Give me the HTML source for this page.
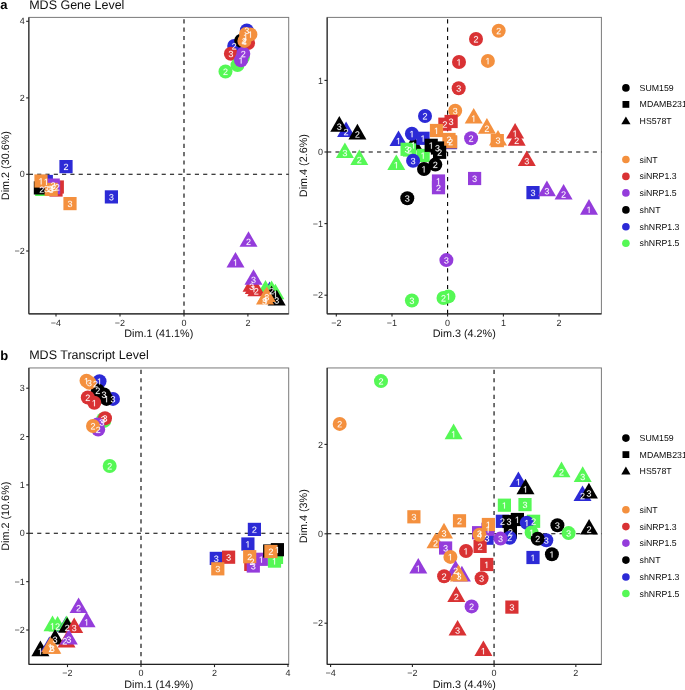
<!DOCTYPE html>
<html><head><meta charset="utf-8"><style>
html,body{margin:0;padding:0;background:#fff;width:685px;height:690px;overflow:hidden}
svg{display:block;will-change:transform}
text{text-rendering:geometricPrecision}
text{font-family:"Liberation Sans", sans-serif;fill:#1a1a1a}
.tk{font-size:9px;fill:#2a2a2a}
.ax{font-size:10.8px;fill:#111}
.lg{font-size:8.75px;fill:#0a0a0a}
.tt{font-size:12.5px;fill:#111}
.pl{font-size:13px;font-weight:bold;fill:#000}
.ml{font-size:9.3px;fill:#fff;text-anchor:middle}
</style></head><body>
<svg width="685" height="690" viewBox="0 0 685 690">
<defs><path id="g2" d="M103 0V127Q154 244 228 334Q301 423 382 496Q463 568 542 630Q622 692 686 754Q750 816 790 884Q829 952 829 1038Q829 1154 761 1218Q693 1282 572 1282Q457 1282 382 1220Q308 1157 295 1044L111 1061Q131 1230 254 1330Q378 1430 572 1430Q785 1430 900 1330Q1014 1229 1014 1044Q1014 962 976 881Q939 800 865 719Q791 638 582 468Q467 374 399 298Q331 223 301 153H1036V0Z"/><path id="g3" d="M1049 389Q1049 194 925 87Q801 -20 571 -20Q357 -20 230 76Q102 173 78 362L264 379Q300 129 571 129Q707 129 784 196Q862 263 862 395Q862 510 774 574Q685 639 518 639H416V795H514Q662 795 744 860Q825 924 825 1038Q825 1151 758 1216Q692 1282 561 1282Q442 1282 368 1221Q295 1160 283 1049L102 1063Q122 1236 246 1333Q369 1430 563 1430Q775 1430 892 1332Q1010 1233 1010 1057Q1010 922 934 838Q859 753 715 723V719Q873 702 961 613Q1049 524 1049 389Z"/><path id="g4" d="M881 319V0H711V319H47V459L692 1409H881V461H1079V319ZM711 1206Q709 1200 683 1153Q657 1106 644 1087L283 555L229 481L213 461H711Z"/><path id="g1" d="M515 0V1237L197 1010V1180L530 1409H696V0Z"/></defs>
<rect width="685" height="690" fill="#fff"/>
<text x="0.3" y="9.4" class="pl">a</text>
<text x="29.2" y="9.0" class="tt">MDS Gene Level</text>
<text x="0.3" y="359.6" class="pl">b</text>
<text x="29.2" y="359.2" class="tt">MDS Transcript Level</text>
<rect x="28.85" y="17.4" width="259.84999999999997" height="296.45000000000005" fill="none" stroke="#7a7a7a" stroke-width="1"/>
<line x1="28.85" y1="174.3" x2="288.7" y2="174.3" stroke="#000" stroke-width="1.1" stroke-dasharray="4.15 4.15"/>
<line x1="184.0" y1="313.95000000000005" x2="184.0" y2="17.4" stroke="#000" stroke-width="1.1" stroke-dasharray="4.15 4.15"/>
<circle cx="246.8" cy="30.5" r="7.0" fill="#2C2AD6"/>
<circle cx="234.2" cy="46.0" r="7.0" fill="#2C2AD6"/>
<circle cx="241.2" cy="40.8" r="7.0" fill="#000000"/>
<circle cx="248.1" cy="43.0" r="7.0" fill="#D93234"/>
<circle cx="230.9" cy="53.7" r="7.0" fill="#D93234"/>
<circle cx="242.8" cy="57.5" r="7.0" fill="#55F855"/>
<circle cx="237.5" cy="65.1" r="7.0" fill="#55F855"/>
<circle cx="225.5" cy="71.5" r="7.0" fill="#55F855"/>
<circle cx="241.0" cy="60.2" r="7.0" fill="#943CDB"/>
<circle cx="243.3" cy="53.8" r="7.0" fill="#943CDB"/>
<circle cx="244.4" cy="40.9" r="7.0" fill="#F4903E"/>
<circle cx="250.4" cy="34.4" r="7.0" fill="#F4903E"/>
<circle cx="246.0" cy="34.0" r="7.0" fill="#F4903E"/>
<rect x="35.20" y="182.80" width="13.2" height="13.2" fill="#55F855"/>
<rect x="33.80" y="181.30" width="13.2" height="13.2" fill="#000000"/>
<rect x="39.70" y="174.90" width="13.2" height="13.2" fill="#2C2AD6"/>
<rect x="49.40" y="183.40" width="13.2" height="13.2" fill="#D93234"/>
<rect x="50.70" y="180.40" width="13.2" height="13.2" fill="#D93234"/>
<rect x="46.60" y="178.50" width="13.2" height="13.2" fill="#943CDB"/>
<rect x="47.00" y="181.00" width="13.2" height="13.2" fill="#943CDB"/>
<rect x="44.60" y="182.80" width="13.2" height="13.2" fill="#F4903E"/>
<rect x="34.40" y="174.40" width="13.2" height="13.2" fill="#F4903E"/>
<rect x="59.40" y="160.00" width="13.2" height="13.2" fill="#2C2AD6"/>
<rect x="104.80" y="190.30" width="13.2" height="13.2" fill="#2C2AD6"/>
<rect x="63.40" y="197.00" width="13.2" height="13.2" fill="#F4903E"/>
<polygon points="248.50,231.20 257.51,246.80 239.49,246.80" fill="#943CDB"/>
<polygon points="235.50,251.90 244.51,267.50 226.49,267.50" fill="#943CDB"/>
<polygon points="269.60,281.60 278.61,297.20 260.59,297.20" fill="#2C2AD6"/>
<polygon points="265.50,280.10 274.51,295.70 256.49,295.70" fill="#55F855"/>
<polygon points="271.60,280.40 280.61,296.00 262.59,296.00" fill="#55F855"/>
<polygon points="275.40,283.70 284.41,299.30 266.39,299.30" fill="#55F855"/>
<polygon points="251.60,276.10 260.61,291.70 242.59,291.70" fill="#D93234"/>
<polygon points="253.80,278.40 262.81,294.00 244.79,294.00" fill="#D93234"/>
<polygon points="256.30,280.60 265.31,296.20 247.29,296.20" fill="#D93234"/>
<polygon points="253.50,269.20 262.51,284.80 244.49,284.80" fill="#943CDB"/>
<polygon points="271.60,285.70 280.61,301.30 262.59,301.30" fill="#000000"/>
<polygon points="276.70,289.80 285.71,305.40 267.69,305.40" fill="#000000"/>
<polygon points="266.80,286.50 275.81,302.10 257.79,302.10" fill="#F4903E"/>
<polygon points="265.00,289.00 274.01,304.60 255.99,304.60" fill="#F4903E"/>
<g fill="#fff" stroke="#fff" stroke-width="40">
<use href="#g3" transform="translate(244.30,33.90) scale(0.00439,-0.00439)"/>
<use href="#g2" transform="translate(231.70,49.40) scale(0.00439,-0.00439)"/>
<use href="#g3" transform="translate(228.40,57.10) scale(0.00439,-0.00439)"/>
<use href="#g2" transform="translate(223.00,74.90) scale(0.00439,-0.00439)"/>
<use href="#g1" transform="translate(238.50,63.60) scale(0.00439,-0.00439)"/>
<use href="#g2" transform="translate(240.80,57.20) scale(0.00439,-0.00439)"/>
<use href="#g2" transform="translate(241.90,44.30) scale(0.00439,-0.00439)"/>
<use href="#g1" transform="translate(247.90,37.80) scale(0.00439,-0.00439)"/>
<use href="#g1" transform="translate(243.10,40.40) scale(0.00439,-0.00439)"/>
<use href="#g4" transform="translate(241.50,44.90) scale(0.00439,-0.00439)"/>
<use href="#g2" transform="translate(39.30,192.80) scale(0.00439,-0.00439)"/>
<use href="#g1" transform="translate(43.80,184.90) scale(0.00439,-0.00439)"/>
<use href="#g2" transform="translate(54.80,190.40) scale(0.00439,-0.00439)"/>
<use href="#g2" transform="translate(50.70,188.50) scale(0.00439,-0.00439)"/>
<use href="#g2" transform="translate(51.10,191.00) scale(0.00439,-0.00439)"/>
<use href="#g3" transform="translate(48.70,192.80) scale(0.00439,-0.00439)"/>
<use href="#g1" transform="translate(38.50,184.40) scale(0.00439,-0.00439)"/>
<use href="#g3" transform="translate(43.90,192.20) scale(0.00439,-0.00439)"/>
<use href="#g2" transform="translate(47.50,192.00) scale(0.00439,-0.00439)"/>
<use href="#g2" transform="translate(63.50,170.00) scale(0.00439,-0.00439)"/>
<use href="#g3" transform="translate(108.90,200.30) scale(0.00439,-0.00439)"/>
<use href="#g3" transform="translate(67.50,207.00) scale(0.00439,-0.00439)"/>
<use href="#g2" transform="translate(246.00,245.00) scale(0.00439,-0.00439)"/>
<use href="#g1" transform="translate(233.00,265.70) scale(0.00439,-0.00439)"/>
<use href="#g2" transform="translate(269.10,294.20) scale(0.00439,-0.00439)"/>
<use href="#g1" transform="translate(272.90,297.50) scale(0.00439,-0.00439)"/>
<use href="#g3" transform="translate(249.10,289.90) scale(0.00439,-0.00439)"/>
<use href="#g1" transform="translate(251.30,292.20) scale(0.00439,-0.00439)"/>
<use href="#g2" transform="translate(253.80,294.40) scale(0.00439,-0.00439)"/>
<use href="#g3" transform="translate(251.00,283.00) scale(0.00439,-0.00439)"/>
<use href="#g3" transform="translate(274.20,303.60) scale(0.00439,-0.00439)"/>
<use href="#g3" transform="translate(264.30,300.30) scale(0.00439,-0.00439)"/>
<use href="#g4" transform="translate(262.50,302.80) scale(0.00439,-0.00439)"/>
<use href="#g3" transform="translate(262.00,304.40) scale(0.00439,-0.00439)"/>
</g>
<line x1="28.85" y1="17.4" x2="28.85" y2="313.85" stroke="#222" stroke-width="1.1"/>
<line x1="28.85" y1="313.85" x2="288.7" y2="313.85" stroke="#222" stroke-width="1.1"/>
<line x1="56.0" y1="313.85" x2="56.0" y2="316.55" stroke="#222" stroke-width="1.1"/>
<text x="56.0" y="325.55" text-anchor="middle" class="tk">−4</text>
<line x1="120.0" y1="313.85" x2="120.0" y2="316.55" stroke="#222" stroke-width="1.1"/>
<text x="120.0" y="325.55" text-anchor="middle" class="tk">−2</text>
<line x1="184.0" y1="313.85" x2="184.0" y2="316.55" stroke="#222" stroke-width="1.1"/>
<text x="184.0" y="325.55" text-anchor="middle" class="tk">0</text>
<line x1="247.9" y1="313.85" x2="247.9" y2="316.55" stroke="#222" stroke-width="1.1"/>
<text x="247.9" y="325.55" text-anchor="middle" class="tk">2</text>
<line x1="26.150000000000002" y1="21.3" x2="28.85" y2="21.3" stroke="#222" stroke-width="1.1"/>
<text x="24.650000000000002" y="24.400000000000002" text-anchor="end" class="tk">4</text>
<line x1="26.150000000000002" y1="97.9" x2="28.85" y2="97.9" stroke="#222" stroke-width="1.1"/>
<text x="24.650000000000002" y="101.0" text-anchor="end" class="tk">2</text>
<line x1="26.150000000000002" y1="174.3" x2="28.85" y2="174.3" stroke="#222" stroke-width="1.1"/>
<text x="24.650000000000002" y="177.4" text-anchor="end" class="tk">0</text>
<line x1="26.150000000000002" y1="251.0" x2="28.85" y2="251.0" stroke="#222" stroke-width="1.1"/>
<text x="24.650000000000002" y="254.1" text-anchor="end" class="tk">−2</text>
<text x="158.775" y="337.45000000000005" text-anchor="middle" class="ax">Dim.1 (41.1%)</text>
<text transform="translate(8.8,165.625) rotate(-90)" x="0" y="0" text-anchor="middle" class="ax">Dim.2 (30.6%)</text>
<rect x="327.15" y="17.4" width="274.25" height="296.45000000000005" fill="none" stroke="#7a7a7a" stroke-width="1"/>
<line x1="327.15" y1="152.0" x2="601.4" y2="152.0" stroke="#000" stroke-width="1.1" stroke-dasharray="4.15 4.15"/>
<line x1="447.6" y1="313.95000000000005" x2="447.6" y2="17.4" stroke="#000" stroke-width="1.1" stroke-dasharray="4.15 4.15"/>
<circle cx="498.7" cy="30.8" r="7.0" fill="#F4903E"/>
<circle cx="476.0" cy="39.0" r="7.0" fill="#D93234"/>
<circle cx="459.0" cy="62.0" r="7.0" fill="#D93234"/>
<circle cx="487.9" cy="60.9" r="7.0" fill="#F4903E"/>
<circle cx="458.7" cy="88.3" r="7.0" fill="#D93234"/>
<circle cx="455.2" cy="110.8" r="7.0" fill="#F4903E"/>
<circle cx="425.0" cy="116.0" r="7.0" fill="#2C2AD6"/>
<rect x="438.30" y="117.60" width="13.2" height="13.2" fill="#D93234"/>
<rect x="444.50" y="114.90" width="13.2" height="13.2" fill="#D93234"/>
<rect x="429.90" y="123.90" width="13.2" height="13.2" fill="#F4903E"/>
<rect x="443.90" y="136.00" width="13.2" height="13.2" fill="#2C2AD6"/>
<rect x="442.40" y="132.90" width="13.2" height="13.2" fill="#F4903E"/>
<rect x="444.00" y="135.20" width="13.2" height="13.2" fill="#F4903E"/>
<polygon points="398.50,130.40 407.51,146.00 389.49,146.00" fill="#2C2AD6"/>
<polygon points="413.50,134.60 422.51,150.20 404.49,150.20" fill="#000000"/>
<circle cx="411.9" cy="133.8" r="7.0" fill="#2C2AD6"/>
<rect x="416.40" y="131.70" width="13.2" height="13.2" fill="#2C2AD6"/>
<rect x="400.50" y="142.70" width="13.2" height="13.2" fill="#55F855"/>
<rect x="402.90" y="143.40" width="13.2" height="13.2" fill="#55F855"/>
<rect x="416.50" y="148.80" width="13.2" height="13.2" fill="#55F855"/>
<rect x="424.60" y="138.70" width="13.2" height="13.2" fill="#000000"/>
<rect x="430.90" y="141.40" width="13.2" height="13.2" fill="#000000"/>
<rect x="433.00" y="145.70" width="13.2" height="13.2" fill="#000000"/>
<circle cx="413.1" cy="160.8" r="7.0" fill="#2C2AD6"/>
<circle cx="424.0" cy="169.0" r="7.0" fill="#000000"/>
<circle cx="435.3" cy="164.6" r="7.0" fill="#000000"/>
<polygon points="396.30,154.50 405.31,170.10 387.29,170.10" fill="#55F855"/>
<polygon points="346.10,121.40 355.11,137.00 337.09,137.00" fill="#2C2AD6"/>
<polygon points="339.30,116.10 348.31,131.70 330.29,131.70" fill="#000000"/>
<polygon points="357.40,123.80 366.41,139.40 348.39,139.40" fill="#000000"/>
<polygon points="344.90,142.40 353.91,158.00 335.89,158.00" fill="#55F855"/>
<polygon points="359.30,149.40 368.31,165.00 350.29,165.00" fill="#55F855"/>
<polygon points="473.70,108.00 482.71,123.60 464.69,123.60" fill="#F4903E"/>
<polygon points="486.90,118.10 495.91,133.70 477.89,133.70" fill="#F4903E"/>
<rect x="490.70" y="134.00" width="13.2" height="13.2" fill="#F4903E"/>
<polygon points="498.00,129.90 507.01,145.50 488.99,145.50" fill="#F4903E"/>
<circle cx="471.1" cy="138.3" r="7.0" fill="#943CDB"/>
<polygon points="515.10,123.00 524.11,138.60 506.09,138.60" fill="#D93234"/>
<polygon points="516.70,130.10 525.71,145.70 507.69,145.70" fill="#D93234"/>
<polygon points="526.80,150.50 535.81,166.10 517.79,166.10" fill="#D93234"/>
<rect x="431.90" y="174.40" width="13.2" height="13.2" fill="#943CDB"/>
<rect x="431.90" y="181.10" width="13.2" height="13.2" fill="#943CDB"/>
<rect x="468.00" y="171.90" width="13.2" height="13.2" fill="#943CDB"/>
<circle cx="407.3" cy="198.3" r="7.0" fill="#000000"/>
<rect x="526.40" y="186.00" width="13.2" height="13.2" fill="#2C2AD6"/>
<polygon points="546.90,180.60 555.91,196.20 537.89,196.20" fill="#943CDB"/>
<polygon points="563.60,183.90 572.61,199.50 554.59,199.50" fill="#943CDB"/>
<polygon points="589.00,199.10 598.01,214.70 579.99,214.70" fill="#943CDB"/>
<circle cx="446.4" cy="260.1" r="7.0" fill="#943CDB"/>
<circle cx="411.9" cy="300.5" r="7.0" fill="#55F855"/>
<circle cx="443.5" cy="298.0" r="7.0" fill="#55F855"/>
<circle cx="448.5" cy="296.4" r="7.0" fill="#55F855"/>
<g fill="#fff" stroke="#fff" stroke-width="40">
<use href="#g2" transform="translate(496.20,34.20) scale(0.00439,-0.00439)"/>
<use href="#g2" transform="translate(473.50,42.40) scale(0.00439,-0.00439)"/>
<use href="#g1" transform="translate(456.50,65.40) scale(0.00439,-0.00439)"/>
<use href="#g1" transform="translate(485.40,64.30) scale(0.00439,-0.00439)"/>
<use href="#g3" transform="translate(456.20,91.70) scale(0.00439,-0.00439)"/>
<use href="#g3" transform="translate(452.70,114.20) scale(0.00439,-0.00439)"/>
<use href="#g2" transform="translate(422.50,119.40) scale(0.00439,-0.00439)"/>
<use href="#g2" transform="translate(442.40,127.60) scale(0.00439,-0.00439)"/>
<use href="#g3" transform="translate(448.60,124.90) scale(0.00439,-0.00439)"/>
<use href="#g1" transform="translate(434.00,133.90) scale(0.00439,-0.00439)"/>
<use href="#g2" transform="translate(446.50,142.90) scale(0.00439,-0.00439)"/>
<use href="#g2" transform="translate(448.10,145.20) scale(0.00439,-0.00439)"/>
<use href="#g1" transform="translate(396.00,144.20) scale(0.00439,-0.00439)"/>
<use href="#g1" transform="translate(411.00,148.40) scale(0.00439,-0.00439)"/>
<use href="#g1" transform="translate(409.40,137.20) scale(0.00439,-0.00439)"/>
<use href="#g1" transform="translate(420.50,141.70) scale(0.00439,-0.00439)"/>
<use href="#g3" transform="translate(404.60,152.70) scale(0.00439,-0.00439)"/>
<use href="#g2" transform="translate(407.00,153.40) scale(0.00439,-0.00439)"/>
<use href="#g1" transform="translate(420.60,158.80) scale(0.00439,-0.00439)"/>
<use href="#g1" transform="translate(428.70,148.70) scale(0.00439,-0.00439)"/>
<use href="#g3" transform="translate(435.00,151.40) scale(0.00439,-0.00439)"/>
<use href="#g2" transform="translate(437.10,155.70) scale(0.00439,-0.00439)"/>
<use href="#g3" transform="translate(410.60,164.20) scale(0.00439,-0.00439)"/>
<use href="#g1" transform="translate(421.50,172.40) scale(0.00439,-0.00439)"/>
<use href="#g2" transform="translate(432.80,168.00) scale(0.00439,-0.00439)"/>
<use href="#g1" transform="translate(393.80,168.30) scale(0.00439,-0.00439)"/>
<use href="#g2" transform="translate(343.60,135.20) scale(0.00439,-0.00439)"/>
<use href="#g3" transform="translate(336.80,129.90) scale(0.00439,-0.00439)"/>
<use href="#g2" transform="translate(354.90,137.60) scale(0.00439,-0.00439)"/>
<use href="#g3" transform="translate(342.40,156.20) scale(0.00439,-0.00439)"/>
<use href="#g2" transform="translate(356.80,163.20) scale(0.00439,-0.00439)"/>
<use href="#g1" transform="translate(471.20,121.80) scale(0.00439,-0.00439)"/>
<use href="#g2" transform="translate(484.40,131.90) scale(0.00439,-0.00439)"/>
<use href="#g3" transform="translate(495.50,143.70) scale(0.00439,-0.00439)"/>
<use href="#g2" transform="translate(468.60,141.70) scale(0.00439,-0.00439)"/>
<use href="#g1" transform="translate(512.60,136.80) scale(0.00439,-0.00439)"/>
<use href="#g2" transform="translate(514.20,143.90) scale(0.00439,-0.00439)"/>
<use href="#g3" transform="translate(524.30,164.30) scale(0.00439,-0.00439)"/>
<use href="#g1" transform="translate(436.00,184.40) scale(0.00439,-0.00439)"/>
<use href="#g2" transform="translate(436.00,191.10) scale(0.00439,-0.00439)"/>
<use href="#g3" transform="translate(472.10,181.90) scale(0.00439,-0.00439)"/>
<use href="#g3" transform="translate(404.80,201.70) scale(0.00439,-0.00439)"/>
<use href="#g3" transform="translate(530.50,196.00) scale(0.00439,-0.00439)"/>
<use href="#g3" transform="translate(544.40,194.40) scale(0.00439,-0.00439)"/>
<use href="#g2" transform="translate(561.10,197.70) scale(0.00439,-0.00439)"/>
<use href="#g1" transform="translate(586.50,212.90) scale(0.00439,-0.00439)"/>
<use href="#g3" transform="translate(443.90,263.50) scale(0.00439,-0.00439)"/>
<use href="#g3" transform="translate(409.40,303.90) scale(0.00439,-0.00439)"/>
<use href="#g2" transform="translate(441.00,301.40) scale(0.00439,-0.00439)"/>
<use href="#g1" transform="translate(446.00,299.80) scale(0.00439,-0.00439)"/>
</g>
<line x1="327.15" y1="17.4" x2="327.15" y2="313.85" stroke="#222" stroke-width="1.1"/>
<line x1="327.15" y1="313.85" x2="601.4" y2="313.85" stroke="#222" stroke-width="1.1"/>
<line x1="336.3" y1="313.85" x2="336.3" y2="316.55" stroke="#222" stroke-width="1.1"/>
<text x="336.3" y="325.55" text-anchor="middle" class="tk">−2</text>
<line x1="392.0" y1="313.85" x2="392.0" y2="316.55" stroke="#222" stroke-width="1.1"/>
<text x="392.0" y="325.55" text-anchor="middle" class="tk">−1</text>
<line x1="447.6" y1="313.85" x2="447.6" y2="316.55" stroke="#222" stroke-width="1.1"/>
<text x="447.6" y="325.55" text-anchor="middle" class="tk">0</text>
<line x1="503.4" y1="313.85" x2="503.4" y2="316.55" stroke="#222" stroke-width="1.1"/>
<text x="503.4" y="325.55" text-anchor="middle" class="tk">1</text>
<line x1="559.05" y1="313.85" x2="559.05" y2="316.55" stroke="#222" stroke-width="1.1"/>
<text x="559.05" y="325.55" text-anchor="middle" class="tk">2</text>
<line x1="324.45" y1="80.4" x2="327.15" y2="80.4" stroke="#222" stroke-width="1.1"/>
<text x="322.95" y="83.5" text-anchor="end" class="tk">1</text>
<line x1="324.45" y1="152.0" x2="327.15" y2="152.0" stroke="#222" stroke-width="1.1"/>
<text x="322.95" y="155.1" text-anchor="end" class="tk">0</text>
<line x1="324.45" y1="223.6" x2="327.15" y2="223.6" stroke="#222" stroke-width="1.1"/>
<text x="322.95" y="226.7" text-anchor="end" class="tk">−1</text>
<line x1="324.45" y1="295.2" x2="327.15" y2="295.2" stroke="#222" stroke-width="1.1"/>
<text x="322.95" y="298.3" text-anchor="end" class="tk">−2</text>
<text x="464.275" y="337.45000000000005" text-anchor="middle" class="ax">Dim.3 (4.2%)</text>
<text transform="translate(307.2,165.625) rotate(-90)" x="0" y="0" text-anchor="middle" class="ax">Dim.4 (2.6%)</text>
<rect x="28.9" y="367.95" width="259.8" height="296.45" fill="none" stroke="#7a7a7a" stroke-width="1"/>
<line x1="28.9" y1="533.3" x2="288.7" y2="533.3" stroke="#000" stroke-width="1.1" stroke-dasharray="4.15 4.15"/>
<line x1="141.0" y1="664.5" x2="141.0" y2="367.95" stroke="#000" stroke-width="1.1" stroke-dasharray="4.15 4.15"/>
<circle cx="99.5" cy="381.2" r="7.0" fill="#2C2AD6"/>
<circle cx="113.0" cy="398.9" r="7.0" fill="#2C2AD6"/>
<circle cx="97.8" cy="390.5" r="7.0" fill="#000000"/>
<circle cx="104.0" cy="394.5" r="7.0" fill="#000000"/>
<circle cx="106.5" cy="398.9" r="7.0" fill="#000000"/>
<circle cx="87.8" cy="397.5" r="7.0" fill="#D93234"/>
<circle cx="94.3" cy="402.8" r="7.0" fill="#D93234"/>
<circle cx="86.5" cy="380.8" r="7.0" fill="#F4903E"/>
<circle cx="89.4" cy="382.8" r="7.0" fill="#F4903E"/>
<circle cx="103.3" cy="419.2" r="7.0" fill="#55F855"/>
<circle cx="104.2" cy="420.9" r="7.0" fill="#55F855"/>
<circle cx="105.0" cy="418.2" r="7.0" fill="#D93234"/>
<circle cx="97.5" cy="424.5" r="7.0" fill="#943CDB"/>
<circle cx="98.2" cy="429.6" r="7.0" fill="#943CDB"/>
<circle cx="93.0" cy="426.0" r="7.0" fill="#F4903E"/>
<circle cx="109.7" cy="466.0" r="7.0" fill="#55F855"/>
<rect x="209.70" y="551.80" width="13.2" height="13.2" fill="#2C2AD6"/>
<rect x="222.00" y="550.60" width="13.2" height="13.2" fill="#D93234"/>
<rect x="211.20" y="562.20" width="13.2" height="13.2" fill="#F4903E"/>
<rect x="247.80" y="522.80" width="13.2" height="13.2" fill="#2C2AD6"/>
<rect x="241.30" y="537.40" width="13.2" height="13.2" fill="#2C2AD6"/>
<rect x="244.20" y="557.80" width="13.2" height="13.2" fill="#D93234"/>
<rect x="246.70" y="559.40" width="13.2" height="13.2" fill="#943CDB"/>
<rect x="254.70" y="552.70" width="13.2" height="13.2" fill="#943CDB"/>
<rect x="243.10" y="550.10" width="13.2" height="13.2" fill="#F4903E"/>
<rect x="267.90" y="554.50" width="13.2" height="13.2" fill="#55F855"/>
<rect x="269.90" y="550.80" width="13.2" height="13.2" fill="#55F855"/>
<rect x="263.10" y="544.40" width="13.2" height="13.2" fill="#000000"/>
<rect x="270.80" y="543.10" width="13.2" height="13.2" fill="#000000"/>
<rect x="264.30" y="544.90" width="13.2" height="13.2" fill="#F4903E"/>
<polygon points="78.60,597.50 87.61,613.10 69.59,613.10" fill="#943CDB"/>
<polygon points="86.60,611.70 95.61,627.30 77.59,627.30" fill="#943CDB"/>
<polygon points="52.50,615.60 61.51,631.20 43.49,631.20" fill="#55F855"/>
<polygon points="57.60,615.90 66.61,631.50 48.59,631.50" fill="#55F855"/>
<polygon points="66.00,616.20 75.01,631.80 56.99,631.80" fill="#2C2AD6"/>
<polygon points="66.70,615.60 75.71,631.20 57.69,631.20" fill="#55F855"/>
<polygon points="67.20,617.20 76.21,632.80 58.19,632.80" fill="#000000"/>
<polygon points="74.20,617.40 83.21,633.00 65.19,633.00" fill="#D93234"/>
<polygon points="55.10,629.00 64.11,644.60 46.09,644.60" fill="#000000"/>
<polygon points="66.50,631.90 75.51,647.50 57.49,647.50" fill="#D93234"/>
<polygon points="68.80,629.00 77.81,644.60 59.79,644.60" fill="#943CDB"/>
<polygon points="40.40,640.60 49.41,656.20 31.39,656.20" fill="#000000"/>
<polygon points="49.40,636.50 58.41,652.10 40.39,652.10" fill="#2C2AD6"/>
<polygon points="50.30,636.60 59.31,652.20 41.29,652.20" fill="#F4903E"/>
<polygon points="51.00,638.10 60.01,653.70 41.99,653.70" fill="#F4903E"/>
<polygon points="52.30,638.10 61.31,653.70 43.29,653.70" fill="#F4903E"/>
<g fill="#fff" stroke="#fff" stroke-width="40">
<use href="#g1" transform="translate(97.00,384.60) scale(0.00439,-0.00439)"/>
<use href="#g3" transform="translate(110.50,402.30) scale(0.00439,-0.00439)"/>
<use href="#g2" transform="translate(95.30,393.90) scale(0.00439,-0.00439)"/>
<use href="#g3" transform="translate(101.50,397.90) scale(0.00439,-0.00439)"/>
<use href="#g1" transform="translate(104.00,402.30) scale(0.00439,-0.00439)"/>
<use href="#g2" transform="translate(85.30,400.90) scale(0.00439,-0.00439)"/>
<use href="#g1" transform="translate(91.80,406.20) scale(0.00439,-0.00439)"/>
<use href="#g1" transform="translate(84.00,384.20) scale(0.00439,-0.00439)"/>
<use href="#g3" transform="translate(86.90,386.20) scale(0.00439,-0.00439)"/>
<use href="#g2" transform="translate(93.00,387.20) scale(0.00439,-0.00439)"/>
<use href="#g3" transform="translate(100.80,422.60) scale(0.00439,-0.00439)"/>
<use href="#g3" transform="translate(102.50,421.60) scale(0.00439,-0.00439)"/>
<use href="#g3" transform="translate(99.30,425.70) scale(0.00439,-0.00439)"/>
<use href="#g2" transform="translate(95.70,433.00) scale(0.00439,-0.00439)"/>
<use href="#g2" transform="translate(90.50,429.40) scale(0.00439,-0.00439)"/>
<use href="#g2" transform="translate(107.20,469.40) scale(0.00439,-0.00439)"/>
<use href="#g3" transform="translate(213.80,561.80) scale(0.00439,-0.00439)"/>
<use href="#g3" transform="translate(226.10,560.60) scale(0.00439,-0.00439)"/>
<use href="#g3" transform="translate(215.30,572.20) scale(0.00439,-0.00439)"/>
<use href="#g2" transform="translate(251.90,532.80) scale(0.00439,-0.00439)"/>
<use href="#g1" transform="translate(245.40,547.40) scale(0.00439,-0.00439)"/>
<use href="#g3" transform="translate(250.80,569.40) scale(0.00439,-0.00439)"/>
<use href="#g2" transform="translate(249.50,564.90) scale(0.00439,-0.00439)"/>
<use href="#g1" transform="translate(258.80,562.70) scale(0.00439,-0.00439)"/>
<use href="#g2" transform="translate(247.20,560.10) scale(0.00439,-0.00439)"/>
<use href="#g1" transform="translate(272.00,564.50) scale(0.00439,-0.00439)"/>
<use href="#g1" transform="translate(274.90,553.10) scale(0.00439,-0.00439)"/>
<use href="#g2" transform="translate(268.40,554.90) scale(0.00439,-0.00439)"/>
<use href="#g2" transform="translate(76.10,611.30) scale(0.00439,-0.00439)"/>
<use href="#g1" transform="translate(84.10,625.50) scale(0.00439,-0.00439)"/>
<use href="#g1" transform="translate(50.00,629.40) scale(0.00439,-0.00439)"/>
<use href="#g2" transform="translate(55.10,629.70) scale(0.00439,-0.00439)"/>
<use href="#g2" transform="translate(64.70,631.00) scale(0.00439,-0.00439)"/>
<use href="#g3" transform="translate(71.70,631.20) scale(0.00439,-0.00439)"/>
<use href="#g3" transform="translate(52.60,642.80) scale(0.00439,-0.00439)"/>
<use href="#g3" transform="translate(66.30,642.80) scale(0.00439,-0.00439)"/>
<use href="#g2" transform="translate(62.30,644.40) scale(0.00439,-0.00439)"/>
<use href="#g1" transform="translate(37.90,654.40) scale(0.00439,-0.00439)"/>
<use href="#g1" transform="translate(47.80,650.40) scale(0.00439,-0.00439)"/>
<use href="#g2" transform="translate(48.50,651.90) scale(0.00439,-0.00439)"/>
<use href="#g3" transform="translate(49.80,651.90) scale(0.00439,-0.00439)"/>
</g>
<line x1="28.9" y1="367.95" x2="28.9" y2="664.4" stroke="#222" stroke-width="1.1"/>
<line x1="28.9" y1="664.4" x2="288.7" y2="664.4" stroke="#222" stroke-width="1.1"/>
<line x1="67.5" y1="664.4" x2="67.5" y2="667.1" stroke="#222" stroke-width="1.1"/>
<text x="67.5" y="676.1" text-anchor="middle" class="tk">−2</text>
<line x1="141.0" y1="664.4" x2="141.0" y2="667.1" stroke="#222" stroke-width="1.1"/>
<text x="141.0" y="676.1" text-anchor="middle" class="tk">0</text>
<line x1="214.5" y1="664.4" x2="214.5" y2="667.1" stroke="#222" stroke-width="1.1"/>
<text x="214.5" y="676.1" text-anchor="middle" class="tk">2</text>
<line x1="288.0" y1="664.4" x2="288.0" y2="667.1" stroke="#222" stroke-width="1.1"/>
<text x="288.0" y="676.1" text-anchor="middle" class="tk">4</text>
<line x1="26.2" y1="388.2" x2="28.9" y2="388.2" stroke="#222" stroke-width="1.1"/>
<text x="24.7" y="391.3" text-anchor="end" class="tk">3</text>
<line x1="26.2" y1="436.55" x2="28.9" y2="436.55" stroke="#222" stroke-width="1.1"/>
<text x="24.7" y="439.65000000000003" text-anchor="end" class="tk">2</text>
<line x1="26.2" y1="484.9" x2="28.9" y2="484.9" stroke="#222" stroke-width="1.1"/>
<text x="24.7" y="488.0" text-anchor="end" class="tk">1</text>
<line x1="26.2" y1="533.3" x2="28.9" y2="533.3" stroke="#222" stroke-width="1.1"/>
<text x="24.7" y="536.4" text-anchor="end" class="tk">0</text>
<line x1="26.2" y1="581.65" x2="28.9" y2="581.65" stroke="#222" stroke-width="1.1"/>
<text x="24.7" y="584.75" text-anchor="end" class="tk">−1</text>
<line x1="26.2" y1="630.0" x2="28.9" y2="630.0" stroke="#222" stroke-width="1.1"/>
<text x="24.7" y="633.1" text-anchor="end" class="tk">−2</text>
<text x="158.79999999999998" y="688.0" text-anchor="middle" class="ax">Dim.1 (14.9%)</text>
<text transform="translate(8.8,516.175) rotate(-90)" x="0" y="0" text-anchor="middle" class="ax">Dim.2 (10.6%)</text>
<rect x="327.15" y="367.95" width="274.25" height="296.45" fill="none" stroke="#7a7a7a" stroke-width="1"/>
<line x1="327.15" y1="533.8" x2="601.4" y2="533.8" stroke="#000" stroke-width="1.1" stroke-dasharray="4.15 4.15"/>
<line x1="494.05" y1="664.5" x2="494.05" y2="367.95" stroke="#000" stroke-width="1.1" stroke-dasharray="4.15 4.15"/>
<circle cx="381.0" cy="381.1" r="7.0" fill="#55F855"/>
<circle cx="339.7" cy="423.9" r="7.0" fill="#F4903E"/>
<polygon points="453.60,423.60 462.61,439.20 444.59,439.20" fill="#55F855"/>
<polygon points="561.50,461.60 570.51,477.20 552.49,477.20" fill="#55F855"/>
<polygon points="582.70,466.30 591.71,481.90 573.69,481.90" fill="#55F855"/>
<polygon points="582.50,485.40 591.51,501.00 573.49,501.00" fill="#2C2AD6"/>
<polygon points="588.90,482.80 597.91,498.40 579.89,498.40" fill="#000000"/>
<polygon points="518.40,471.40 527.41,487.00 509.39,487.00" fill="#2C2AD6"/>
<polygon points="525.50,478.70 534.51,494.30 516.49,494.30" fill="#000000"/>
<rect x="407.30" y="510.20" width="13.2" height="13.2" fill="#F4903E"/>
<rect x="452.90" y="514.20" width="13.2" height="13.2" fill="#F4903E"/>
<polygon points="444.00,522.80 453.01,538.40 434.99,538.40" fill="#F4903E"/>
<polygon points="435.50,532.70 444.51,548.30 426.49,548.30" fill="#F4903E"/>
<rect x="439.00" y="541.40" width="13.2" height="13.2" fill="#943CDB"/>
<circle cx="450.4" cy="556.9" r="7.0" fill="#F4903E"/>
<rect x="472.00" y="526.10" width="13.2" height="13.2" fill="#943CDB"/>
<rect x="480.40" y="531.60" width="13.2" height="13.2" fill="#2C2AD6"/>
<rect x="481.40" y="522.70" width="13.2" height="13.2" fill="#943CDB"/>
<rect x="481.80" y="517.90" width="13.2" height="13.2" fill="#F4903E"/>
<rect x="473.50" y="539.80" width="13.2" height="13.2" fill="#D93234"/>
<circle cx="479.5" cy="534.8" r="7.0" fill="#F4903E"/>
<circle cx="466.0" cy="551.0" r="7.0" fill="#D93234"/>
<rect x="480.10" y="557.90" width="13.2" height="13.2" fill="#D93234"/>
<circle cx="481.6" cy="578.3" r="7.0" fill="#D93234"/>
<rect x="497.80" y="498.60" width="13.2" height="13.2" fill="#55F855"/>
<rect x="518.40" y="498.00" width="13.2" height="13.2" fill="#55F855"/>
<rect x="495.80" y="514.70" width="13.2" height="13.2" fill="#2C2AD6"/>
<rect x="502.40" y="514.90" width="13.2" height="13.2" fill="#000000"/>
<rect x="510.80" y="512.90" width="13.2" height="13.2" fill="#000000"/>
<rect x="503.80" y="525.40" width="13.2" height="13.2" fill="#000000"/>
<rect x="527.00" y="514.70" width="13.2" height="13.2" fill="#55F855"/>
<circle cx="526.8" cy="522.8" r="7.0" fill="#2C2AD6"/>
<circle cx="531.6" cy="532.5" r="7.0" fill="#55F855"/>
<circle cx="509.7" cy="537.7" r="7.0" fill="#2C2AD6"/>
<circle cx="500.5" cy="538.6" r="7.0" fill="#943CDB"/>
<circle cx="546.3" cy="540.3" r="7.0" fill="#2C2AD6"/>
<circle cx="537.7" cy="538.7" r="7.0" fill="#000000"/>
<circle cx="557.4" cy="525.3" r="7.0" fill="#000000"/>
<circle cx="568.6" cy="533.1" r="7.0" fill="#55F855"/>
<polygon points="589.10,518.90 598.11,534.50 580.09,534.50" fill="#000000"/>
<circle cx="551.9" cy="554.2" r="7.0" fill="#000000"/>
<rect x="526.40" y="550.90" width="13.2" height="13.2" fill="#2C2AD6"/>
<polygon points="418.30,558.00 427.31,573.60 409.29,573.60" fill="#943CDB"/>
<polygon points="455.60,560.20 464.61,575.80 446.59,575.80" fill="#943CDB"/>
<polygon points="461.90,565.80 470.91,581.40 452.89,581.40" fill="#943CDB"/>
<polygon points="458.40,564.60 467.41,580.20 449.39,580.20" fill="#F4903E"/>
<polygon points="459.00,565.90 468.01,581.50 449.99,581.50" fill="#F4903E"/>
<circle cx="444.1" cy="576.3" r="7.0" fill="#D93234"/>
<polygon points="456.30,586.30 465.31,601.90 447.29,601.90" fill="#D93234"/>
<circle cx="471.6" cy="606.4" r="7.0" fill="#943CDB"/>
<polygon points="457.60,619.90 466.61,635.50 448.59,635.50" fill="#D93234"/>
<polygon points="483.40,640.50 492.41,656.10 474.39,656.10" fill="#D93234"/>
<rect x="505.30" y="600.50" width="13.2" height="13.2" fill="#D93234"/>
<g fill="#fff" stroke="#fff" stroke-width="40">
<use href="#g2" transform="translate(378.50,384.50) scale(0.00439,-0.00439)"/>
<use href="#g2" transform="translate(337.20,427.30) scale(0.00439,-0.00439)"/>
<use href="#g1" transform="translate(451.10,437.40) scale(0.00439,-0.00439)"/>
<use href="#g2" transform="translate(559.00,475.40) scale(0.00439,-0.00439)"/>
<use href="#g3" transform="translate(580.20,480.10) scale(0.00439,-0.00439)"/>
<use href="#g2" transform="translate(580.00,499.20) scale(0.00439,-0.00439)"/>
<use href="#g3" transform="translate(586.40,496.60) scale(0.00439,-0.00439)"/>
<use href="#g1" transform="translate(515.90,485.20) scale(0.00439,-0.00439)"/>
<use href="#g1" transform="translate(523.00,492.50) scale(0.00439,-0.00439)"/>
<use href="#g3" transform="translate(411.40,520.20) scale(0.00439,-0.00439)"/>
<use href="#g2" transform="translate(457.00,524.20) scale(0.00439,-0.00439)"/>
<use href="#g3" transform="translate(441.50,536.60) scale(0.00439,-0.00439)"/>
<use href="#g2" transform="translate(433.00,546.50) scale(0.00439,-0.00439)"/>
<use href="#g3" transform="translate(443.10,551.40) scale(0.00439,-0.00439)"/>
<use href="#g1" transform="translate(447.90,560.30) scale(0.00439,-0.00439)"/>
<use href="#g3" transform="translate(484.50,541.60) scale(0.00439,-0.00439)"/>
<use href="#g1" transform="translate(485.50,532.70) scale(0.00439,-0.00439)"/>
<use href="#g1" transform="translate(485.90,527.90) scale(0.00439,-0.00439)"/>
<use href="#g2" transform="translate(477.60,549.80) scale(0.00439,-0.00439)"/>
<use href="#g4" transform="translate(477.00,538.20) scale(0.00439,-0.00439)"/>
<use href="#g3" transform="translate(477.00,536.90) scale(0.00439,-0.00439)"/>
<use href="#g1" transform="translate(463.50,554.40) scale(0.00439,-0.00439)"/>
<use href="#g1" transform="translate(484.20,567.90) scale(0.00439,-0.00439)"/>
<use href="#g3" transform="translate(479.10,581.70) scale(0.00439,-0.00439)"/>
<use href="#g1" transform="translate(501.90,508.60) scale(0.00439,-0.00439)"/>
<use href="#g3" transform="translate(522.50,508.00) scale(0.00439,-0.00439)"/>
<use href="#g2" transform="translate(499.90,524.70) scale(0.00439,-0.00439)"/>
<use href="#g3" transform="translate(506.50,524.90) scale(0.00439,-0.00439)"/>
<use href="#g1" transform="translate(514.90,522.90) scale(0.00439,-0.00439)"/>
<use href="#g2" transform="translate(507.90,535.40) scale(0.00439,-0.00439)"/>
<use href="#g2" transform="translate(531.10,524.70) scale(0.00439,-0.00439)"/>
<use href="#g1" transform="translate(524.30,526.20) scale(0.00439,-0.00439)"/>
<use href="#g1" transform="translate(529.10,535.90) scale(0.00439,-0.00439)"/>
<use href="#g2" transform="translate(507.20,541.10) scale(0.00439,-0.00439)"/>
<use href="#g3" transform="translate(498.00,542.00) scale(0.00439,-0.00439)"/>
<use href="#g3" transform="translate(543.80,543.70) scale(0.00439,-0.00439)"/>
<use href="#g2" transform="translate(535.20,542.10) scale(0.00439,-0.00439)"/>
<use href="#g3" transform="translate(554.90,528.70) scale(0.00439,-0.00439)"/>
<use href="#g3" transform="translate(566.10,536.50) scale(0.00439,-0.00439)"/>
<use href="#g2" transform="translate(586.60,532.70) scale(0.00439,-0.00439)"/>
<use href="#g1" transform="translate(549.40,557.60) scale(0.00439,-0.00439)"/>
<use href="#g1" transform="translate(530.50,560.90) scale(0.00439,-0.00439)"/>
<use href="#g1" transform="translate(415.80,571.80) scale(0.00439,-0.00439)"/>
<use href="#g2" transform="translate(453.10,574.00) scale(0.00439,-0.00439)"/>
<use href="#g1" transform="translate(455.90,578.40) scale(0.00439,-0.00439)"/>
<use href="#g3" transform="translate(456.50,579.70) scale(0.00439,-0.00439)"/>
<use href="#g2" transform="translate(441.60,579.70) scale(0.00439,-0.00439)"/>
<use href="#g2" transform="translate(453.80,600.10) scale(0.00439,-0.00439)"/>
<use href="#g2" transform="translate(469.10,609.80) scale(0.00439,-0.00439)"/>
<use href="#g3" transform="translate(455.10,633.70) scale(0.00439,-0.00439)"/>
<use href="#g1" transform="translate(480.90,654.30) scale(0.00439,-0.00439)"/>
<use href="#g3" transform="translate(509.40,610.50) scale(0.00439,-0.00439)"/>
</g>
<line x1="327.15" y1="367.95" x2="327.15" y2="664.4" stroke="#222" stroke-width="1.1"/>
<line x1="327.15" y1="664.4" x2="601.4" y2="664.4" stroke="#222" stroke-width="1.1"/>
<line x1="330.6" y1="664.4" x2="330.6" y2="667.1" stroke="#222" stroke-width="1.1"/>
<text x="330.6" y="676.1" text-anchor="middle" class="tk">−4</text>
<line x1="412.4" y1="664.4" x2="412.4" y2="667.1" stroke="#222" stroke-width="1.1"/>
<text x="412.4" y="676.1" text-anchor="middle" class="tk">−2</text>
<line x1="494.1" y1="664.4" x2="494.1" y2="667.1" stroke="#222" stroke-width="1.1"/>
<text x="494.1" y="676.1" text-anchor="middle" class="tk">0</text>
<line x1="575.85" y1="664.4" x2="575.85" y2="667.1" stroke="#222" stroke-width="1.1"/>
<text x="575.85" y="676.1" text-anchor="middle" class="tk">2</text>
<line x1="324.45" y1="444.4" x2="327.15" y2="444.4" stroke="#222" stroke-width="1.1"/>
<text x="322.95" y="447.5" text-anchor="end" class="tk">2</text>
<line x1="324.45" y1="533.8" x2="327.15" y2="533.8" stroke="#222" stroke-width="1.1"/>
<text x="322.95" y="536.9" text-anchor="end" class="tk">0</text>
<line x1="324.45" y1="623.2" x2="327.15" y2="623.2" stroke="#222" stroke-width="1.1"/>
<text x="322.95" y="626.3000000000001" text-anchor="end" class="tk">−2</text>
<text x="464.275" y="688.0" text-anchor="middle" class="ax">Dim.3 (4.4%)</text>
<text transform="translate(307.2,516.175) rotate(-90)" x="0" y="0" text-anchor="middle" class="ax">Dim.4 (3%)</text>
<circle cx="625.9" cy="87.9" r="3.8" fill="#000"/>
<text x="639.6" y="90.9" class="lg">SUM159</text>
<rect x="622.5" y="101.0" width="6.8" height="6.8" fill="#000"/>
<text x="639.6" y="107.4" class="lg">MDAMB231</text>
<polygon points="625.9,116.4 630.5,124.3 621.3,124.3" fill="#000"/>
<text x="639.6" y="124.0" class="lg">HS578T</text>
<circle cx="625.9" cy="159.5" r="3.8" fill="#F4903E"/>
<text x="639.6" y="162.5" class="lg">siNT</text>
<circle cx="625.9" cy="176.4" r="3.8" fill="#D93234"/>
<text x="639.6" y="179.4" class="lg">siNRP1.3</text>
<circle cx="625.9" cy="192.9" r="3.8" fill="#943CDB"/>
<text x="639.6" y="195.9" class="lg">siNRP1.5</text>
<circle cx="625.9" cy="209.9" r="3.8" fill="#000000"/>
<text x="639.6" y="212.9" class="lg">shNT</text>
<circle cx="625.9" cy="226.8" r="3.8" fill="#2C2AD6"/>
<text x="639.6" y="229.8" class="lg">shNRP1.3</text>
<circle cx="625.9" cy="243.3" r="3.8" fill="#55F855"/>
<text x="639.6" y="246.3" class="lg">shNRP1.5</text>
<circle cx="625.9" cy="438.1" r="3.8" fill="#000"/>
<text x="639.6" y="441.1" class="lg">SUM159</text>
<rect x="622.5" y="451.20000000000005" width="6.8" height="6.8" fill="#000"/>
<text x="639.6" y="457.6" class="lg">MDAMB231</text>
<polygon points="625.9,466.59999999999997 630.5,474.5 621.3,474.5" fill="#000"/>
<text x="639.6" y="474.2" class="lg">HS578T</text>
<circle cx="625.9" cy="509.7" r="3.8" fill="#F4903E"/>
<text x="639.6" y="512.7" class="lg">siNT</text>
<circle cx="625.9" cy="526.6" r="3.8" fill="#D93234"/>
<text x="639.6" y="529.6" class="lg">siNRP1.3</text>
<circle cx="625.9" cy="543.1" r="3.8" fill="#943CDB"/>
<text x="639.6" y="546.1" class="lg">siNRP1.5</text>
<circle cx="625.9" cy="560.1" r="3.8" fill="#000000"/>
<text x="639.6" y="563.1" class="lg">shNT</text>
<circle cx="625.9" cy="577.0" r="3.8" fill="#2C2AD6"/>
<text x="639.6" y="580.0" class="lg">shNRP1.3</text>
<circle cx="625.9" cy="593.5" r="3.8" fill="#55F855"/>
<text x="639.6" y="596.5" class="lg">shNRP1.5</text>
</svg>
</body></html>
